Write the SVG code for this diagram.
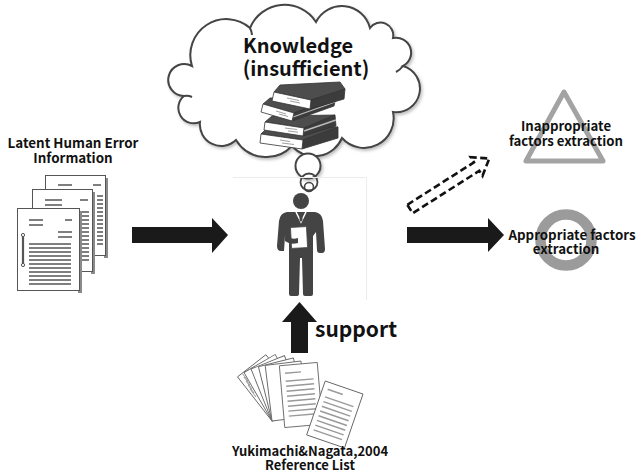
<svg xmlns="http://www.w3.org/2000/svg" width="637" height="475" viewBox="0 0 637 475">
  <defs>
    <filter id="soft" x="-10%" y="-10%" width="130%" height="130%">
      <feDropShadow dx="1.5" dy="2" stdDeviation="1.5" flood-color="#000" flood-opacity="0.25"/>
    </filter>
    <style>
      .lbl { font-family: "Noto Sans CJK JP", "Noto Sans", sans-serif; font-weight: bold; fill: #111; text-anchor: middle; }
      .page { fill: #fff; stroke: #555; stroke-width: 1; }
      .edge { fill: #8a8a8a; }
      .ln { stroke: #555; stroke-width: 1.6; }
      .ln2 { stroke: #999; stroke-width: 1.4; }
      .bubble { fill: #fff; stroke: #444; stroke-width: 2; }
      .cover { fill: #4d4d4d; stroke: #333; stroke-width: 0.8; }
      .spine { fill: #3c3c3c; stroke: #333; stroke-width: 0.8; }
      .leaf { fill: #fff; stroke: #333; stroke-width: 0.8; }
      .arrow { fill: #1a1a1a; }
      .fan { fill: #fff; stroke: #666; stroke-width: 0.9; }
    </style>
  </defs>

  <rect width="637" height="475" fill="#fff"/>

  <!-- thought cloud with books -->
  <g id="knowledge">
    <path class="bubble" filter="url(#soft)" d="M192,66 A36,36 0 0 1 250,28 A37.4,37.4 0 0 1 316,22 A29,29 0 0 1 370,28 A12.8,12.8 0 0 1 393,38 A15,15 0 0 1 403,66 A23.6,23.6 0 0 1 393,112 A29.6,29.6 0 0 1 342,138 A29.9,29.9 0 0 1 292,146 A35.4,35.4 0 0 1 236,140 A21.4,21.4 0 0 1 200,122 A15.4,15.4 0 0 1 184,96 A16,16 0 1 1 192,66 Z"/>
    <!-- small inner hooks of the cloud outline -->
    <path d="M403,66 q-3,4 -7,6 M250,28 q2,4 2,7 M184,96 q4,-1 8,1 M292,146 q-2,-4 -1,-8" fill="none" stroke="#444" stroke-width="2"/>
    <text class="lbl" x="298" y="53" font-size="20">Knowledge</text>
    <text class="lbl" x="306" y="76" font-size="20">(insufficient)</text>

    <!-- stack of books -->
    <g id="books">
      <!-- bottom book -->
      <polygon class="cover" points="261,134 268,127 338,127 303,140"/>
      <polygon class="spine" points="303,140 338,127 338,138 302,149"/>
      <polygon class="leaf" points="261,134 303,140 302,149 260,143"/>
      <path d="M280,140 l10,1.5 M282,143 l12,1.5" stroke="#888" stroke-width="0.8"/>
      <!-- third book -->
      <polygon class="cover" points="265,122 272,116 335,115 304,128"/>
      <polygon class="spine" points="304,128 335,115 336,126 303,136"/>
      <path d="M304,131 L336,120" stroke="#bbb" stroke-width="1.5"/>
      <polygon class="leaf" points="265,122 304,128 303,136 264,130"/>
      <path d="M285,128 l12,1.5 M288,131 l10,1.2" stroke="#888" stroke-width="0.8"/>
      <!-- second book -->
      <polygon class="cover" points="263,104 270,98 336,97 294,113"/>
      <polygon class="spine" points="294,113 336,97 334,106 292,121"/>
      <path d="M293,117 L335,102" stroke="#bbb" stroke-width="1.3"/>
      <polygon class="leaf" points="263,104 294,113 292,121 261,112"/>
      <path d="M276,111 l10,3 M279,114 l9,2.5" stroke="#888" stroke-width="0.8"/>
      <!-- top book -->
      <polygon class="cover" points="274,92 280,85 340,82 345,89 311,100"/>
      <polygon class="spine" points="311,100 345,89 344,99 310,109"/>
      <polygon class="leaf" points="274,92 311,100 310,109 272,101"/>
      <path d="M287,98 l12,2.5 M290,101 l10,2" stroke="#888" stroke-width="0.8"/>
    </g>

    <!-- thought bubbles -->
    <circle class="bubble" cx="308" cy="166" r="12.5" stroke-width="1.8" filter="url(#soft)"/>
    <circle cx="309" cy="182" r="8.5" fill="none" stroke="#444" stroke-width="1.8"/>
    <circle cx="309" cy="187" r="4.5" fill="none" stroke="#444" stroke-width="1.6"/>
  </g>

  <!-- faint frame around the worker -->
  <path d="M233,177.5 H366.5 V300" fill="none" stroke="#ececec" stroke-width="1"/>

  <!-- worker figure -->
  <g id="worker" fill="#444">
    <circle cx="301" cy="201" r="8"/>
    <path d="M287,212 Q280,213 279,221 L277,246 Q277,251 281,251 L284,251 L285,236 L289,240 L289,294 Q289,296 291,296 L297,296 Q299,296 299,294 L300,258 L302,258 L303,294 Q303,296 305,296 L311,296 Q313,296 313,294 L313,236 L316,232 L317,250 Q317,253 320,253 L322,253 Q325,253 325,249 L323,221 Q322,213 315,212 Z"/>
    <!-- collar and tie -->
    <path d="M296,212 L301,222 L306,212" fill="none" stroke="#fff" stroke-width="1.5"/>
    <path d="M300,213 L302,213 L302.5,220 L301,222 L299.5,220 Z" fill="#444"/>
    <!-- sheet held in hand -->
    <rect x="291" y="227" width="16" height="21" fill="#fff" stroke="#444" stroke-width="0.8" transform="rotate(-3 299 237)"/>
    <path d="M285,236 Q292,240 298,238 L298,243 Q290,245 285,241 Z"/>
  </g>

  <!-- input documents -->
  <g id="latent-info">
    <text class="lbl" x="73" y="148" font-size="13.4">Latent Human Error</text>
    <text class="lbl" x="73" y="163" font-size="13.4">Information</text>

    <!-- back sheet -->
    <rect class="edge" x="104" y="178" width="4" height="80"/>
    <rect class="page" x="45.5" y="175.5" width="60" height="80"/>
    <path class="ln" d="M58,185 h14 M93,185 h8"/>
    <path class="ln" d="M97,196 h6 M97,200 h6 M97,204 h6 M97,208 h6 M97,212 h6 M97,216 h6 M97,220 h6 M97,224 h6 M97,228 h6 M97,232 h6 M97,236 h6 M97,240 h6 M97,244 h6"/>

    <!-- middle sheet -->
    <rect class="edge" x="91" y="192" width="4" height="82"/>
    <rect class="page" x="32.5" y="189.5" width="60" height="82"/>
    <path class="ln" d="M45,200 h17 M45,205 h17 M80,200 h8"/>
    <path class="ln" d="M82,212 h7 M82,216 h7 M82,220 h7 M82,224 h7 M82,228 h7 M82,232 h7 M82,236 h7 M82,240 h7 M82,244 h7 M82,248 h7 M82,252 h7 M82,256 h7 M82,260 h7"/>

    <!-- front sheet -->
    <rect class="edge" x="78" y="211" width="4" height="82"/>
    <rect class="page" x="17.5" y="208.5" width="62" height="82"/>
    <path class="ln" d="M29,220 h14 M29,225 h14 M65,220 h7 M58,232 h14 M58,237 h14"/>
    <line x1="23" y1="236" x2="23" y2="264" stroke="#555" stroke-width="2.2"/>
    <circle cx="23" cy="235" r="1.6" fill="#fff" stroke="#555" stroke-width="1"/>
    <circle cx="23" cy="265" r="1.6" fill="#fff" stroke="#555" stroke-width="1"/>
    <path class="ln" d="M29,244 h42 M29,248 h42 M29,252 h42 M29,256 h42 M29,260 h42 M29,264 h42 M29,268 h42 M29,272 h42 M29,276 h42 M29,280 h42 M29,284 h42"/>
  </g>

  <!-- reference papers -->
  <g id="reference-list">
    <g transform="translate(272 421)">
      <rect class="fan" x="0" y="-56" width="36" height="56" transform="rotate(-38)"/>
      <rect class="fan" x="0" y="-56" width="36" height="56" transform="rotate(-30)"/>
      <rect class="fan" x="0" y="-56" width="36" height="56" transform="rotate(-22)"/>
      <rect class="fan" x="0" y="-56" width="36" height="56" transform="rotate(-14)"/>
      <rect class="fan" x="0" y="-56" width="36" height="56" transform="rotate(-7)"/>
      <path d="M-24,-40 l-6,-8 M-22,-36 l-6,-8 M-20,-32 l-6,-8 M-18,-28 l-6,-8 M-16,-24 l-6,-8" stroke="#999" stroke-width="1"/>
    </g>
    <!-- front sheet of the fan -->
    <g transform="rotate(-5 301 395)">
      <rect class="fan" x="282" y="364" width="38" height="62"/>
      <path class="ln2" d="M287,372 h16 M287,380 h28 M287,385 h28 M287,390 h28 M287,395 h28 M287,400 h28 M287,405 h28 M287,410 h28 M287,415 h28"/>
    </g>
    <!-- loose sheet -->
    <g transform="rotate(19 335 414)">
      <rect class="fan" x="315" y="386" width="40" height="57"/>
      <path class="ln2" d="M320,393 h16 M320,401 h30 M320,406 h30 M320,411 h30 M320,416 h30 M320,421 h30 M320,426 h30 M320,431 h30 M320,436 h30"/>
    </g>
    <text class="lbl" x="310" y="456" font-size="13">Yukimachi&amp;Nagata,2004</text>
    <text class="lbl" x="310" y="470" font-size="13">Reference List</text>
  </g>

  <!-- outcome: inappropriate -->
  <g id="inappropriate">
    <polygon points="564,92 526,161 603,161" fill="none" stroke="#a3a3a3" stroke-width="5" stroke-linejoin="round"/>
    <text class="lbl" x="566" y="131" font-size="13.2">Inappropriate</text>
    <text class="lbl" x="566" y="146" font-size="13.2">factors extraction</text>
  </g>

  <!-- outcome: appropriate -->
  <g id="appropriate">
    <circle cx="566" cy="240" r="25.5" fill="none" stroke="#9b9b9b" stroke-width="10.5"/>
    <text class="lbl" x="572" y="240" font-size="13.3">Appropriate factors</text>
    <text class="lbl" x="566" y="254" font-size="13.3">extraction</text>
  </g>

  <!-- connectors -->
  <g id="connectors">
    <!-- information to worker -->
    <polygon class="arrow" points="132,227 212,227 212,218 228,235 212,253 212,243 132,243"/>
    <!-- worker to appropriate -->
    <polygon class="arrow" points="407,227 488,227 488,218 504,235 488,252 488,243 407,243"/>
    <!-- worker to inappropriate (dashed) -->
    <g transform="translate(410 209) rotate(-32.5)">
      <polygon points="0,-5 79,-5 79,-11 94,0 79,11 79,5 0,5" fill="#fff" stroke="#111" stroke-width="2.6" stroke-dasharray="7 3.5" stroke-linejoin="miter"/>
    </g>
    <!-- reference list supports worker -->
    <polygon class="arrow" points="291,353 291,322 282,322 299.5,302 317,322 308,322 308,353"/>
    <text class="lbl" x="356" y="337" font-size="21">support</text>
  </g>
</svg>
